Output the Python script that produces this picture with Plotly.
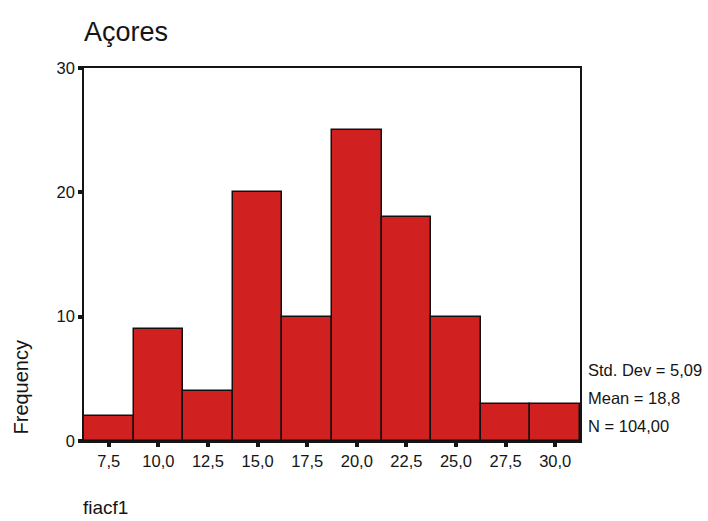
import plotly.graph_objects as go

# Histogram of fiacf1 for Açores (bin width 2.5)
bin_centers = [7.5, 10.0, 12.5, 15.0, 17.5, 20.0, 22.5, 25.0, 27.5, 30.0]
frequencies = [2, 9, 4, 20, 10, 25, 18, 10, 3, 3]
tick_labels = ["7,5", "10,0", "12,5", "15,0", "17,5", "20,0", "22,5", "25,0", "27,5", "30,0"]
stats_lines = ["Std. Dev = 5,09", "Mean = 18,8", "N = 104,00"]

fig = go.Figure()
fig.add_trace(go.Bar(
    x=bin_centers,
    y=frequencies,
    width=2.5,
    marker=dict(color="#d0201f", line=dict(color="#111111", width=1.5)),
    showlegend=False,
))

font = "Liberation Sans, Arial, sans-serif"
ink = "#151515"

# plot area: x 84..580, y 68..441 (pixels)
PW, PH = 496, 373

fig.update_layout(
    width=708, height=521,
    margin=dict(l=84, r=128, t=68, b=80),
    paper_bgcolor="white", plot_bgcolor="white",
    font=dict(family=font, color=ink, size=16),
    bargap=0,
    xaxis=dict(
        range=[6.25, 31.25],
        tickvals=bin_centers, ticktext=tick_labels,
        showline=True, mirror=True, linecolor=ink, linewidth=1.5,
        ticks="outside", ticklen=4, tickwidth=4, tickcolor=ink,
        showgrid=False, zeroline=False,
        tickfont=dict(size=16.5),
    ),
    yaxis=dict(
        range=[0, 30],
        tickvals=[0, 10, 20, 30],
        showline=True, mirror=True, linecolor=ink, linewidth=1.5,
        ticks="outside", ticklen=4, tickwidth=4, tickcolor=ink,
        showgrid=False, zeroline=False,
        tickfont=dict(size=16.5),
    ),
)

# Title
fig.add_annotation(text="Açores", xref="x domain", yref="y domain",
                   x=-2 / PW, y=1 + (68 - 32) / PH,
                   xanchor="left", yanchor="middle", showarrow=False,
                   font=dict(size=27, family=font, color=ink))

# Axis titles
fig.add_annotation(text="Frequency", textangle=-90, xref="x domain", yref="y domain",
                   x=-(84 - 20) / PW, y=(441 - 437) / PH, xanchor="center", yanchor="bottom",
                   showarrow=False, font=dict(size=20, family=font, color=ink))
fig.add_annotation(text="fiacf1", xref="x domain", yref="y domain",
                   x=-3 / PW, y=-(508 - 441) / PH, xanchor="left", yanchor="middle",
                   showarrow=False, font=dict(size=19, family=font, color=ink))

# Summary statistics beside the plot
stat_rows_y = [370, 398, 426]
for line, py in zip(stats_lines, stat_rows_y):
    fig.add_annotation(text=line, xref="x domain", yref="y domain",
                       x=1 + 6 / PW, y=(441 - py) / PH,
                       xanchor="left", yanchor="middle", showarrow=False,
                       font=dict(size=16.5, family=font, color=ink))

fig.write_html("out.html")
